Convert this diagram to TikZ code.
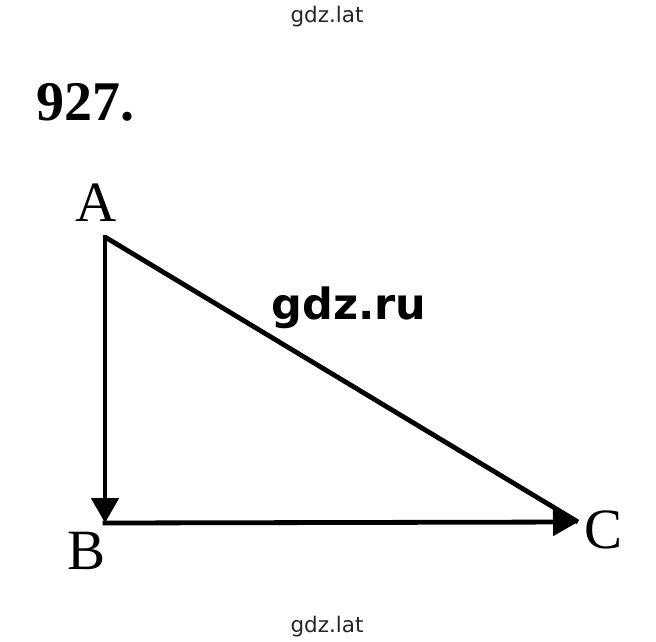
\documentclass[tikz,border=0pt]{standalone}
\usepackage{fontspec}
\setmainfont{Liberation Serif}
\newfontfamily\wmfont{DejaVu Sans}
\newfontfamily\wmbold{DejaVu Sans}[BoldFont={DejaVu Sans Bold}]
\usetikzlibrary{arrows.meta}
\tikzset{
  edge/.style={line width=4.8pt, line cap=butt, line join=miter},
  tip/.style={-{Triangle[length=25pt,width=27pt]}},
  vlabel/.style={inner sep=0pt, font=\fontsize{57pt}{57pt}\selectfont},
  watermark/.style={inner sep=0pt, font=\wmfont\fontsize{21.5pt}{21.5pt}\selectfont, text=black!85},
}
\begin{document}
\begin{tikzpicture}[x=1pt,y=-1pt]
\useasboundingbox[fill=white] (0,0) rectangle (656,641);
\node[watermark, anchor=base] (wt) at (327,22) {gdz.lat};
\node[watermark, anchor=base] (wb) at (327,632) {gdz.lat};
\node[inner sep=0pt, anchor=base west, font=\bfseries\fontsize{56pt}{56pt}\selectfont] (num) at (36,120) {927.};
\node[inner sep=0pt, anchor=base, font=\wmbold\bfseries\fontsize{43pt}{43pt}\selectfont] (ru) at (349,319) {gdz.ru};
\coordinate (A) at (105,237);
\coordinate (B) at (105,523);
\coordinate (C) at (578,522);
\node[vlabel, anchor=base] (la) at (96,221) {A};
\node[vlabel, anchor=base] (lb) at (87,569) {B};
\node[vlabel, anchor=base] (lc) at (604,548) {C};
\draw[edge] (A) -- (C);
\draw[edge, tip] ([yshift=2.4pt]A) -- (B);
\draw[edge, tip] ([xshift=-2.4pt]B) -- (C);
\end{tikzpicture}
\end{document}
